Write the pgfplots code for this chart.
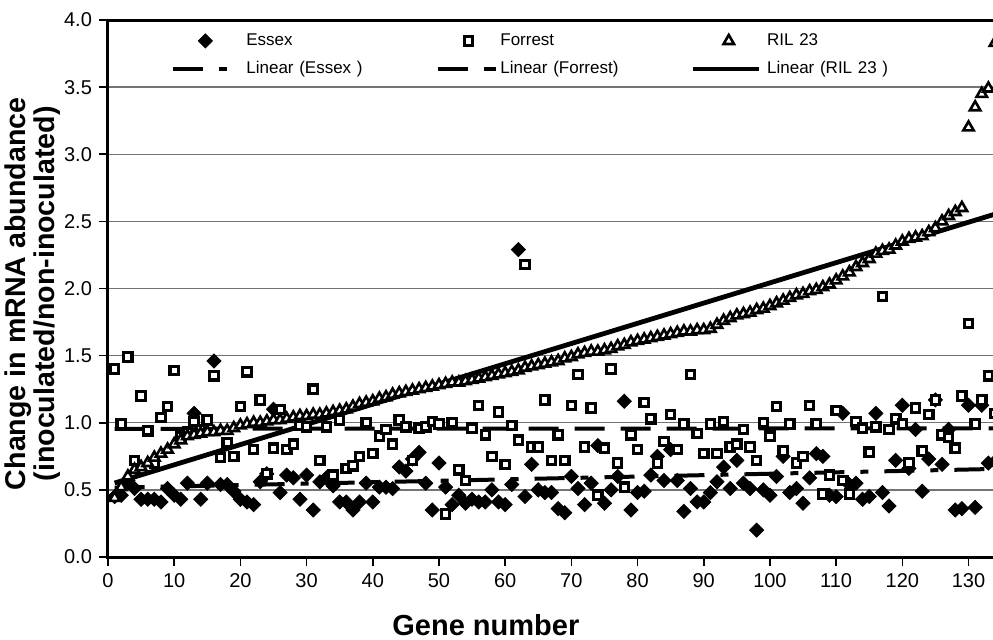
\documentclass[border=0pt]{standalone}
\usepackage{fontspec}
\setmainfont{Liberation Sans}
\usepackage{pgfplots}
\pgfplotsset{compat=1.18}

% legend images: mark at #1 / line of length #1, cell width #2
\pgfplotsset{
  marklgd/.style 2 args={legend image code/.code={%
    \draw[##1] plot coordinates {(#1,0pt)}; \path (0pt,0pt) (#2,0pt);}},
  linelgd/.style 2 args={legend image code/.code={%
    \draw[##1] (0pt,0pt) -- (#1,0pt); \path (#2,0pt);}},
}

\begin{document}
\begin{tikzpicture}
\begin{axis}[
  scale only axis,
  width=443.5pt, height=268.5pt,
  xmin=0, xmax=134, ymin=0, ymax=4,
  xtick={0,10,...,130},
  ytick={0,0.5,1,1.5,2,2.5,3,3.5,4},
  xtick pos=bottom, ytick pos=left,
  tick align=outside,
  major tick length=4.5pt,
  tick style={black, line width=0.8pt},
  axis line style={black, line width=1.5pt},
  ymajorgrids,
  grid style={black!55, line width=0.7pt},
  /pgf/number format/assume math mode=true,
  yticklabel style={/pgf/number format/.cd, fixed, fixed zerofill, precision=1},
  tick label style={font=\fontsize{10}{12}\selectfont},
  xlabel={Gene number},
  ylabel={Change in mRNA abundance\\(inoculated/non-inoculated)},
  xlabel style={at={(axis description cs:0.426,-0.1266)}, anchor=center,
    font=\fontsize{14.5}{16}\selectfont\bfseries},
  ylabel style={at={(axis description cs:-0.0846,0.49)}, anchor=center, align=center,
    font=\fontsize{14.3}{13}\selectfont\bfseries},
  legend columns=3,
  legend cell align=left,
  legend style={draw=none, fill=none, at={(axis description cs:0.071,0.983)},
    anchor=north west, font=\fontsize{8.5}{10}\selectfont,
    inner sep=0pt, row sep=2.5pt,
    nodes={inner xsep=0pt, inner ysep=2pt, text width=93pt},
    /tikz/every odd column/.append style={column sep=0pt},
    /tikz/every even column/.append style={column sep=2pt}},
]
\coordinate (O) at (rel axis cs:0,0);

% Essex
\addplot[only marks, marklgd={16pt}{35.5pt}, mark=square*, mark size=2.5pt,
  mark options={rotate=45, solid, fill=black, draw=black}] coordinates {
(1,0.45) (2,0.46) (3,0.57) (4,0.51) (5,0.43) (6,0.43) (7,0.43) (8,0.41) (9,0.51) (10,0.46)
(11,0.43) (12,0.55) (13,1.07) (14,0.43) (15,0.55) (16,1.46) (17,0.54) (18,0.54) (19,0.49) (20,0.43)
(21,0.41) (22,0.39) (23,0.56) (24,0.62) (25,1.10) (26,0.48) (27,0.61) (28,0.59) (29,0.43) (30,0.61)
(31,0.35) (32,0.56) (33,0.59) (34,0.53) (35,0.41) (36,0.41) (37,0.35) (38,0.41) (39,0.55) (40,0.41)
(41,0.52) (42,0.52) (43,0.51) (44,0.67) (45,0.64) (46,0.73) (47,0.78) (48,0.55) (49,0.35) (50,0.70)
(51,0.52) (52,0.39) (53,0.46) (54,0.40) (55,0.43) (56,0.41) (57,0.41) (58,0.50) (59,0.41) (60,0.39)
(61,0.54) (62,2.29) (63,0.45) (64,0.69) (65,0.50) (66,0.48) (67,0.48) (68,0.36) (69,0.33) (70,0.60)
(71,0.51) (72,0.39) (73,0.55) (74,0.83) (75,0.40) (76,0.50) (77,0.60) (78,1.16) (79,0.35) (80,0.48)
(81,0.49) (82,0.61) (83,0.75) (84,0.57) (85,0.80) (86,0.57) (87,0.34) (88,0.51) (89,0.41) (90,0.41)
(91,0.48) (92,0.56) (93,0.67) (94,0.51) (95,0.72) (96,0.55) (97,0.51) (98,0.20) (99,0.50) (100,0.46)
(101,0.60) (102,0.75) (103,0.48) (104,0.51) (105,0.40) (106,0.59) (107,0.77) (108,0.75) (109,0.46) (110,0.45)
(111,1.07) (112,0.54) (113,0.55) (114,0.43) (115,0.45) (116,1.07) (117,0.48) (118,0.38) (119,0.72) (120,1.13)
(121,0.66) (122,0.95) (123,0.49) (124,0.73) (125,1.17) (126,0.69) (127,0.95) (128,0.35) (129,0.36) (130,1.13)
(131,0.37) (132,1.13) (133,0.70) (134,0.71)
};

% Forrest
\addplot[only marks, marklgd={15pt}{30pt}, mark=square*, mark size=2.1pt,
  mark options={solid, fill=white, draw=black, line width=1.6pt}] coordinates {
(1,1.40) (2,0.99) (3,1.49) (4,0.72) (5,1.20) (6,0.94) (7,0.70) (8,1.04) (9,1.12) (10,1.39)
(11,0.90) (12,0.93) (13,1.01) (14,0.95) (15,1.02) (16,1.35) (17,0.74) (18,0.85) (19,0.75) (20,1.12)
(21,1.38) (22,0.80) (23,1.17) (24,0.62) (25,0.81) (26,1.10) (27,0.80) (28,0.84) (29,0.98) (30,0.97)
(31,1.25) (32,0.72) (33,0.97) (34,0.61) (35,1.02) (36,0.66) (37,0.68) (38,0.75) (39,1.00) (40,0.77)
(41,0.90) (42,0.95) (43,0.84) (44,1.02) (45,0.97) (46,0.72) (47,0.96) (48,0.97) (49,1.01) (50,0.99)
(51,0.32) (52,1.00) (53,0.65) (54,0.57) (55,0.96) (56,1.13) (57,0.91) (58,0.75) (59,1.08) (60,0.69)
(61,0.98) (62,0.87) (63,2.18) (64,0.82) (65,0.82) (66,1.17) (67,0.72) (68,0.91) (69,0.72) (70,1.13)
(71,1.36) (72,0.82) (73,1.11) (74,0.46) (75,0.81) (76,1.40) (77,0.70) (78,0.52) (79,0.91) (80,0.80)
(81,1.15) (82,1.03) (83,0.70) (84,0.86) (85,1.06) (86,0.80) (87,0.99) (88,1.36) (89,0.92) (90,0.77)
(91,0.99) (92,0.77) (93,1.01) (94,0.82) (95,0.84) (96,0.95) (97,0.82) (98,0.72) (99,1.00) (100,0.90)
(101,1.12) (102,0.79) (103,0.99) (104,0.70) (105,0.75) (106,1.13) (107,0.99) (108,0.47) (109,0.61) (110,1.09)
(111,0.57) (112,0.47) (113,1.01) (114,0.96) (115,0.78) (116,0.97) (117,1.94) (118,0.95) (119,1.03) (120,0.99)
(121,0.70) (122,1.11) (123,0.79) (124,1.06) (125,1.17) (126,0.91) (127,0.89) (128,0.81) (129,1.20) (130,1.74)
(131,0.99) (132,1.17) (133,1.35) (134,1.07)
};

% RIL 23
\addplot[only marks, marklgd={18pt}{36pt}, mark=triangle*, mark size=3pt,
  mark options={solid, fill=white, draw=black, line width=1.3pt}] coordinates {
(1,0.44) (2,0.52) (3,0.60) (4,0.65) (5,0.67) (6,0.70) (7,0.74) (8,0.77) (9,0.80) (10,0.84)
(11,0.87) (12,0.90) (13,0.91) (14,0.92) (15,0.93) (16,0.93) (17,0.94) (18,0.94) (19,0.96) (20,0.98)
(21,0.99) (22,1.00) (23,1.00) (24,1.01) (25,1.02) (26,1.02) (27,1.03) (28,1.04) (29,1.05) (30,1.05)
(31,1.06) (32,1.06) (33,1.07) (34,1.08) (35,1.09) (36,1.10) (37,1.12) (38,1.14) (39,1.15) (40,1.16)
(41,1.18) (42,1.19) (43,1.21) (44,1.22) (45,1.23) (46,1.24) (47,1.25) (48,1.26) (49,1.27) (50,1.28)
(51,1.29) (52,1.30) (53,1.30) (54,1.31) (55,1.32) (56,1.33) (57,1.34) (58,1.35) (59,1.36) (60,1.37)
(61,1.38) (62,1.39) (63,1.41) (64,1.42) (65,1.43) (66,1.44) (67,1.45) (68,1.46) (69,1.48) (70,1.49)
(71,1.51) (72,1.52) (73,1.53) (74,1.53) (75,1.54) (76,1.55) (77,1.57) (78,1.58) (79,1.60) (80,1.61)
(81,1.62) (82,1.63) (83,1.64) (84,1.65) (85,1.66) (86,1.67) (87,1.68) (88,1.68) (89,1.69) (90,1.69)
(91,1.70) (92,1.73) (93,1.76) (94,1.78) (95,1.80) (96,1.81) (97,1.82) (98,1.84) (99,1.85) (100,1.87)
(101,1.89) (102,1.91) (103,1.93) (104,1.95) (105,1.96) (106,1.98) (107,1.99) (108,2.01) (109,2.03) (110,2.06)
(111,2.09) (112,2.12) (113,2.16) (114,2.19) (115,2.22) (116,2.26) (117,2.28) (118,2.29) (119,2.32) (120,2.35)
(121,2.37) (122,2.38) (123,2.39) (124,2.42) (125,2.45) (126,2.50) (127,2.54) (128,2.57) (129,2.60) (130,3.20)
(131,3.35) (132,3.45) (133,3.49) (134,3.83)
};

% trend lines
\addplot[linelgd={28pt}{35.5pt}, black, line width=2pt, dash pattern=on 15pt off 8pt on 4pt off 8pt]
  coordinates {(1,0.516) (134,0.656)};
\addplot[linelgd={29pt}{30pt}, black, line width=2pt, dash pattern=on 15pt off 8pt]
  coordinates {(1,0.955) (134,0.958)};
\addplot[linelgd={33pt}{36pt}, black, line width=2.4pt]
  coordinates {(1,0.551) (134,2.554)};

\legend{Essex, Forrest, RIL 23, Linear (Essex ), Linear (Forrest), Linear (RIL 23 )}
\end{axis}
\pgfresetboundingbox
\path[use as bounding box] ([xshift=-54pt,yshift=-41pt]O) rectangle ([xshift=442.5pt,yshift=278.5pt]O);
\end{tikzpicture}
\end{document}
